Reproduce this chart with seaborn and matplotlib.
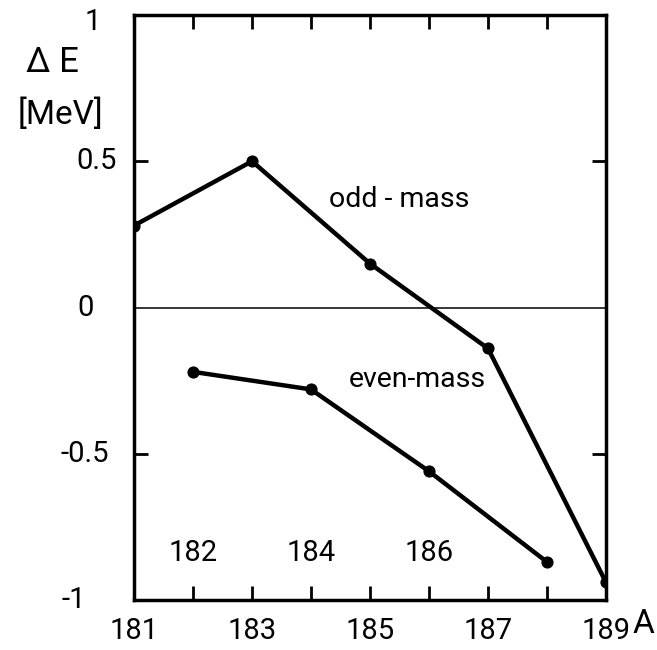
import matplotlib
matplotlib.use("Agg")
import matplotlib.pyplot as plt
import seaborn as sns
import pandas as pd

odd_A = [181, 183, 185, 187, 189]
odd_dE = [0.28, 0.50, 0.15, -0.14, -0.94]
even_A = [182, 184, 186, 188]
even_dE = [-0.22, -0.28, -0.56, -0.87]

xtick_outer = [181, 183, 185, 187, 189]
xtick_inner = [182, 184, 186]
ytick_vals = [1, 0.5, 0, -0.5, -1]
ytick_labels = ["1", "0.5", "0", "-0.5", "-1"]
series_labels = ["odd - mass", "even-mass"]

df = pd.concat([
    pd.DataFrame({"A": odd_A, "dE": odd_dE, "series": series_labels[0]}),
    pd.DataFrame({"A": even_A, "dE": even_dE, "series": series_labels[1]}),
])

sns.set_style("white")
plt.rcParams["font.family"] = ["Roboto", "DejaVu Sans"]
plt.rcParams["text.color"] = "black"
plt.rcParams["xtick.color"] = "black"
plt.rcParams["ytick.color"] = "black"
plt.rcParams["xtick.labelcolor"] = "black"

fig = plt.figure(figsize=(6.57, 6.5), dpi=100)
W, H = 657, 650
ax = fig.add_axes([134/W, 1-600/H, (606-134)/W, (600-15)/H])

sns.lineplot(data=df, x="A", y="dE", units="series", estimator=None,
             color="black", linewidth=3.2, marker="o", markersize=8,
             markeredgecolor="black", ax=ax, legend=False)

ax.set_xlim(181, 189)
ax.set_ylim(-1, 1)
ax.axhline(0, color="black", linewidth=1.1)

for s in ax.spines.values():
    s.set_linewidth(2.5)
    s.set_color("black")

ax.set_xticks(list(range(181, 190)))
ax.set_xticklabels([str(v) if v in xtick_outer else "" for v in range(181, 190)],
                   fontsize=21)
ax.tick_params(axis="x", direction="in", length=10, width=2, top=True,
               bottom=True, pad=12, colors="black")
ax.set_yticks([0.5, -0.5])
ax.set_yticklabels([])
ax.tick_params(axis="y", direction="in", length=10, width=2, left=True,
               right=True)
ax.set_xlabel("")
ax.set_ylabel("")

# y labels (outside, left) with their centre x in pixels
ylab_x_px = [93, 97, 86, 85, 74]
for v, lab, xp in zip(ytick_vals, ytick_labels, ylab_x_px):
    yp = 600 - (v + 1) / 2 * 585
    if v == 1:
        yp = 22
    fig.text(xp/W, 1-yp/H, lab, ha="center", va="center", fontsize=21)

# even tick labels inside the frame
for v in xtick_inner:
    ax.text(v, 0.08, str(v), transform=ax.get_xaxis_transform(),
            ha="center", va="center", fontsize=21)

# series labels
ax.text(185.5, 0.37, series_labels[0], ha="center", va="center", fontsize=20.5)
ax.text(185.8, -0.245, series_labels[1], ha="center", va="center", fontsize=20.5)

fig.text(52/W, 1-63/H, "Δ E", ha="center", va="center", fontsize=25)
fig.text(60/W, 1-115/H, "[MeV]", ha="center", va="center", fontsize=24)
fig.text(654/W, 1-624/H, "A", ha="right", va="center", fontsize=24)

fig.savefig("out.png", dpi=100)
